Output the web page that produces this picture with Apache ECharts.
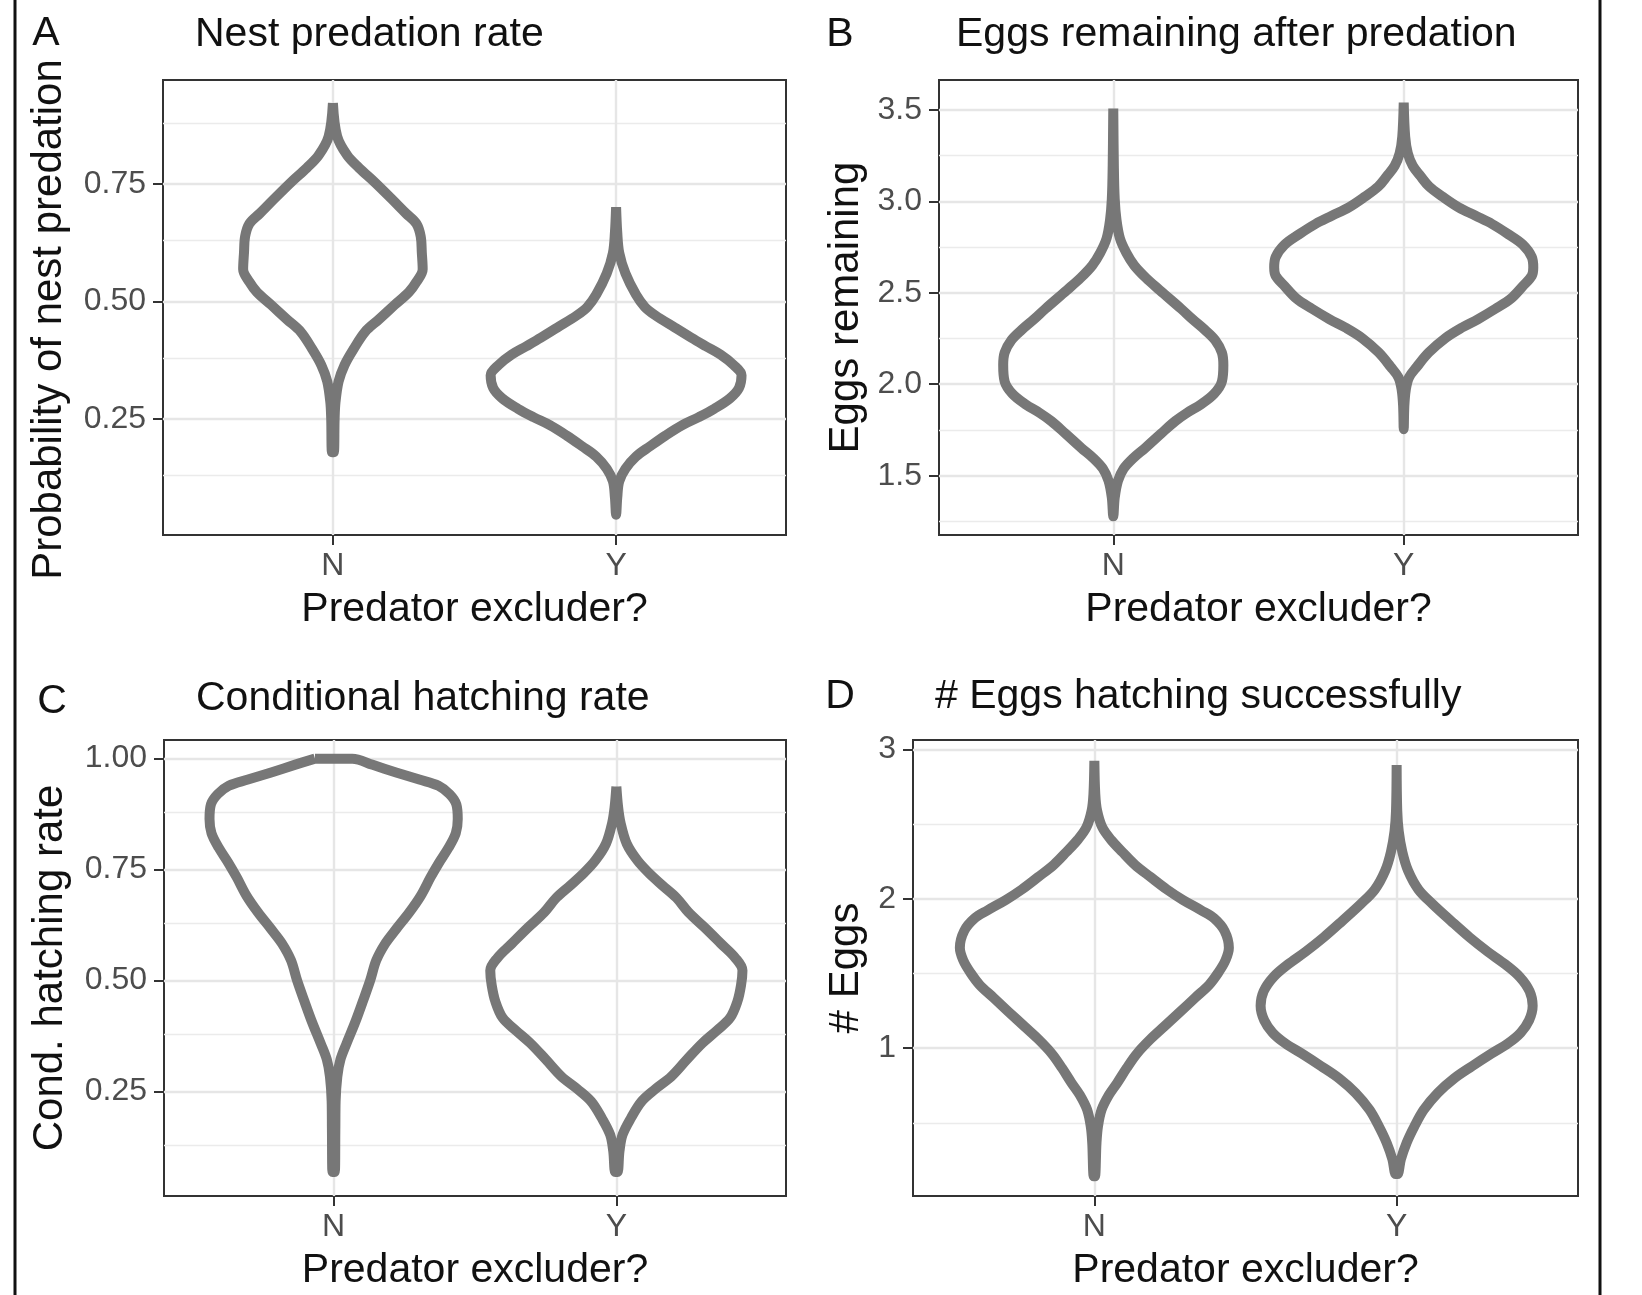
<!DOCTYPE html>
<html>
<head>
<meta charset="utf-8">
<script src="https://cdn.jsdelivr.net/npm/echarts@6/dist/echarts.min.js"></script>
<style>
  html, body { margin: 0; padding: 0; background: #fff; }
  #chart { width: 1642px; height: 1295px; }
</style>
</head>
<body>
<div id="chart"></div>
<script>
var categories = ['N', 'Y'];

// violin outlines: [value, half width in category units]
var predationN = [[0.923,0],[0.852,0.015],[0.812,0.050],[0.785,0.092],[0.754,0.148],[0.719,0.207],[0.688,0.258],[0.666,0.295],[0.639,0.310],[0.604,0.314],[0.569,0.317],[0.542,0.295],[0.520,0.268],[0.493,0.218],[0.462,0.162],[0.436,0.114],[0.400,0.074],[0.365,0.041],[0.330,0.020],[0.285,0.009],[0.250,0.006],[0.179,0.003]];
var predationY = [[0.701,0],[0.648,0.004],[0.604,0.011],[0.560,0.033],[0.515,0.070],[0.489,0.101],[0.471,0.138],[0.445,0.207],[0.423,0.266],[0.405,0.317],[0.387,0.369],[0.365,0.415],[0.343,0.443],[0.316,0.434],[0.294,0.402],[0.272,0.347],[0.254,0.292],[0.237,0.234],[0.215,0.175],[0.192,0.120],[0.170,0.070],[0.144,0.033],[0.117,0.011],[0.082,0.004],[0.046,0]];

var remainingN = [[3.507,0],[3.194,0.002],[3.012,0.005],[2.899,0.011],[2.797,0.023],[2.718,0.045],[2.650,0.072],[2.582,0.112],[2.514,0.160],[2.412,0.234],[2.355,0.273],[2.298,0.315],[2.241,0.351],[2.173,0.374],[2.105,0.379],[2.015,0.374],[1.947,0.347],[1.890,0.302],[1.845,0.255],[1.799,0.214],[1.731,0.165],[1.652,0.110],[1.595,0.068],[1.539,0.036],[1.471,0.016],[1.380,0.005],[1.278,0]];
var remainingY = [[3.539,0],[3.353,0.005],[3.262,0.014],[3.194,0.031],[3.137,0.058],[3.080,0.088],[3.024,0.135],[2.967,0.189],[2.922,0.246],[2.876,0.304],[2.820,0.360],[2.763,0.410],[2.695,0.441],[2.638,0.446],[2.593,0.441],[2.536,0.410],[2.468,0.369],[2.412,0.315],[2.355,0.255],[2.310,0.201],[2.253,0.144],[2.173,0.086],[2.095,0.045],[2.037,0.018],[1.969,0.007],[1.879,0.002],[1.754,0]];

var hatchRateN = [[1.000,0.066],[0.986,0.138],[0.969,0.221],[0.953,0.303],[0.939,0.371],[0.920,0.410],[0.897,0.434],[0.864,0.439],[0.832,0.432],[0.799,0.406],[0.766,0.373],[0.733,0.343],[0.691,0.308],[0.654,0.268],[0.616,0.221],[0.584,0.183],[0.546,0.151],[0.500,0.129],[0.453,0.103],[0.406,0.076],[0.359,0.046],[0.322,0.024],[0.284,0.013],[0.228,0.007],[0.163,0.006],[0.069,0.004]];
var hatchRateY = [[0.937,0],[0.892,0.006],[0.855,0.015],[0.808,0.037],[0.771,0.074],[0.743,0.114],[0.715,0.162],[0.687,0.212],[0.654,0.255],[0.621,0.310],[0.584,0.369],[0.551,0.421],[0.523,0.446],[0.490,0.441],[0.453,0.428],[0.416,0.402],[0.387,0.354],[0.359,0.304],[0.322,0.249],[0.284,0.194],[0.256,0.138],[0.228,0.089],[0.191,0.052],[0.153,0.022],[0.116,0.011],[0.069,0.004]];

var hatchedN = [[2.925,0],[2.702,0.003],[2.591,0.009],[2.480,0.026],[2.396,0.055],[2.313,0.093],[2.229,0.134],[2.146,0.186],[2.063,0.240],[1.993,0.293],[1.924,0.353],[1.868,0.397],[1.784,0.431],[1.673,0.445],[1.590,0.434],[1.506,0.410],[1.423,0.379],[1.339,0.334],[1.242,0.283],[1.145,0.231],[1.061,0.186],[0.964,0.141],[0.867,0.107],[0.769,0.076],[0.686,0.048],[0.588,0.024],[0.477,0.012],[0.366,0.007],[0.143,0.002]];
var hatchedY = [[2.897,0],[2.591,0.002],[2.452,0.007],[2.313,0.019],[2.188,0.038],[2.063,0.072],[1.965,0.119],[1.854,0.179],[1.743,0.241],[1.645,0.302],[1.562,0.359],[1.478,0.407],[1.381,0.440],[1.284,0.450],[1.186,0.438],[1.103,0.410],[1.033,0.369],[0.964,0.314],[0.880,0.250],[0.797,0.190],[0.700,0.136],[0.588,0.090],[0.477,0.059],[0.366,0.033],[0.255,0.014],[0.157,0.003]];

// axis ranges and breaks
var rangeA = [0.003, 0.972], majorA = [0.25, 0.5, 0.75], minorA = [0.125, 0.375, 0.625, 0.875];
var rangeB = [1.176, 3.663], majorB = [1.5, 2, 2.5, 3, 3.5], minorB = [1.25, 1.75, 2.25, 2.75, 3.25];
var rangeC = [0.015, 1.042], majorC = [0.25, 0.5, 0.75, 1], minorC = [0.125, 0.375, 0.625, 0.875];
var rangeD = [0.010, 3.064], majorD = [1, 2, 3], minorD = [0.5, 1.5, 2.5];

var titles = ['Nest predation rate', 'Eggs remaining after predation', 'Conditional hatching rate', '# Eggs hatching successfully'];
var letters = ['A', 'B', 'C', 'D'];
var yNames = ['Probability of nest predation', 'Eggs remaining', 'Cond. hatching rate', '# Eggs'];
var xName = 'Predator excluder?';

var FONT = '"Liberation Sans", Arial, sans-serif';

var panels = [
    { grid: { left: 163, top: 80, width: 623, height: 455 }, range: rangeA, major: majorA, minor: minorA, digits: 2,
      violins: [predationN, predationY], yGap: 114, yPad: [0, 24, 0, 0], letter: [46, 34], title: [195, 35] },
    { grid: { left: 939, top: 80, width: 639, height: 455 }, range: rangeB, major: majorB, minor: minorB, digits: 1,
      violins: [remainingN, remainingY], yGap: 93, yPad: 0, letter: [840, 35], title: [956, 35] },
    { grid: { left: 164, top: 740, width: 622, height: 456 }, range: rangeC, major: majorC, minor: minorC, digits: 2,
      violins: [hatchRateN, hatchRateY], yGap: 114, yPad: 0, letter: [52, 702], title: [196, 699] },
    { grid: { left: 913, top: 740, width: 665, height: 456 }, range: rangeD, major: majorD, minor: minorD, digits: 0,
      violins: [hatchedN, hatchedY], yGap: 67, yPad: 0, letter: [840, 697], title: [935, 697] }
];

// closed outline: down the left side, back up the right side
function outline(profile, center) {
    var left = profile.map(function (p) { return [center - p[1], p[0]]; });
    var right = profile.slice().reverse().map(function (p) { return [center + p[1], p[0]]; });
    return left.concat(right, [left[0]]);
}

var grids = [], xAxes = [], yAxes = [], series = [], graphics = [];

panels.forEach(function (pn, i) {
    grids.push(Object.assign({ show: true, borderColor: '#333', borderWidth: 2, backgroundColor: '#fff' }, pn.grid));

    xAxes.push({
        type: 'value', gridIndex: i, min: 0.4, max: 2.6,
        name: xName, nameLocation: 'middle', nameGap: 75,
        nameTextStyle: { fontSize: 41, color: '#111', fontFamily: FONT, verticalAlign: 'middle' },
        axisLine: { show: false },
        axisTick: { show: true, length: 10, customValues: [1, 2], lineStyle: { color: '#333', width: 2 } },
        axisLabel: { customValues: [1, 2], margin: 15, fontSize: 32, color: '#4d4d4d', fontFamily: FONT,
            formatter: function (v) { return categories[Math.round(v) - 1]; } },
        splitLine: { show: false }
    });

    yAxes.push({
        type: 'value', gridIndex: i, min: pn.range[0], max: pn.range[1],
        name: yNames[i], nameLocation: 'middle', nameGap: pn.yGap,
        nameTextStyle: { fontSize: 42, color: '#111', fontFamily: FONT, verticalAlign: 'middle', padding: pn.yPad },
        axisLine: { show: false },
        axisTick: { show: true, length: 10, customValues: pn.major, lineStyle: { color: '#333', width: 2 } },
        axisLabel: { customValues: pn.major, margin: 17, fontSize: 32, color: '#4d4d4d', fontFamily: FONT,
            formatter: function (v) { return v.toFixed(pn.digits); } },
        splitLine: { show: false }
    });

    var lines = [];
    pn.minor.forEach(function (v) { lines.push({ yAxis: v, lineStyle: { color: '#ebebeb', width: 1.3, type: 'solid' } }); });
    pn.major.forEach(function (v) { lines.push({ yAxis: v, lineStyle: { color: '#e6e6e6', width: 2.4, type: 'solid' } }); });
    [1, 2].forEach(function (v) { lines.push({ xAxis: v, lineStyle: { color: '#e6e6e6', width: 2.4, type: 'solid' } }); });

    pn.violins.forEach(function (profile, k) {
        var s = {
            type: 'line', xAxisIndex: i, yAxisIndex: i, z: 3,
            data: outline(profile, k + 1),
            smooth: 0.35, symbol: 'none', silent: true,
            lineStyle: { color: '#777', width: 10, join: 'round' }
        };
        if (k === 0) {
            s.markLine = { silent: true, z: 1, symbol: ['none', 'none'], label: { show: false }, animation: false, data: lines };
        }
        series.push(s);
    });

    graphics.push({ type: 'text', x: pn.letter[0], y: pn.letter[1],
        style: { text: letters[i], fontSize: 41, fontFamily: FONT, fill: '#111', align: 'center', verticalAlign: 'middle' } });
    graphics.push({ type: 'text', x: pn.title[0], y: pn.title[1],
        style: { text: titles[i], fontSize: 41, fontFamily: FONT, fill: '#111', align: 'left', verticalAlign: 'middle' } });
});

// figure frame
graphics.push({ type: 'line', shape: { x1: 15, y1: 0, x2: 15, y2: 1295 }, style: { stroke: '#111', lineWidth: 3 } });
graphics.push({ type: 'line', shape: { x1: 1600, y1: 0, x2: 1600, y2: 1295 }, style: { stroke: '#111', lineWidth: 3 } });

var myChart = echarts.init(document.getElementById('chart'));
myChart.setOption({
    animation: false,
    backgroundColor: '#fff',
    textStyle: { fontFamily: FONT },
    grid: grids,
    xAxis: xAxes,
    yAxis: yAxes,
    series: series,
    graphic: graphics
});
window.addEventListener('resize', function () {
    myChart.resize();
});
</script>
</body>
</html>
